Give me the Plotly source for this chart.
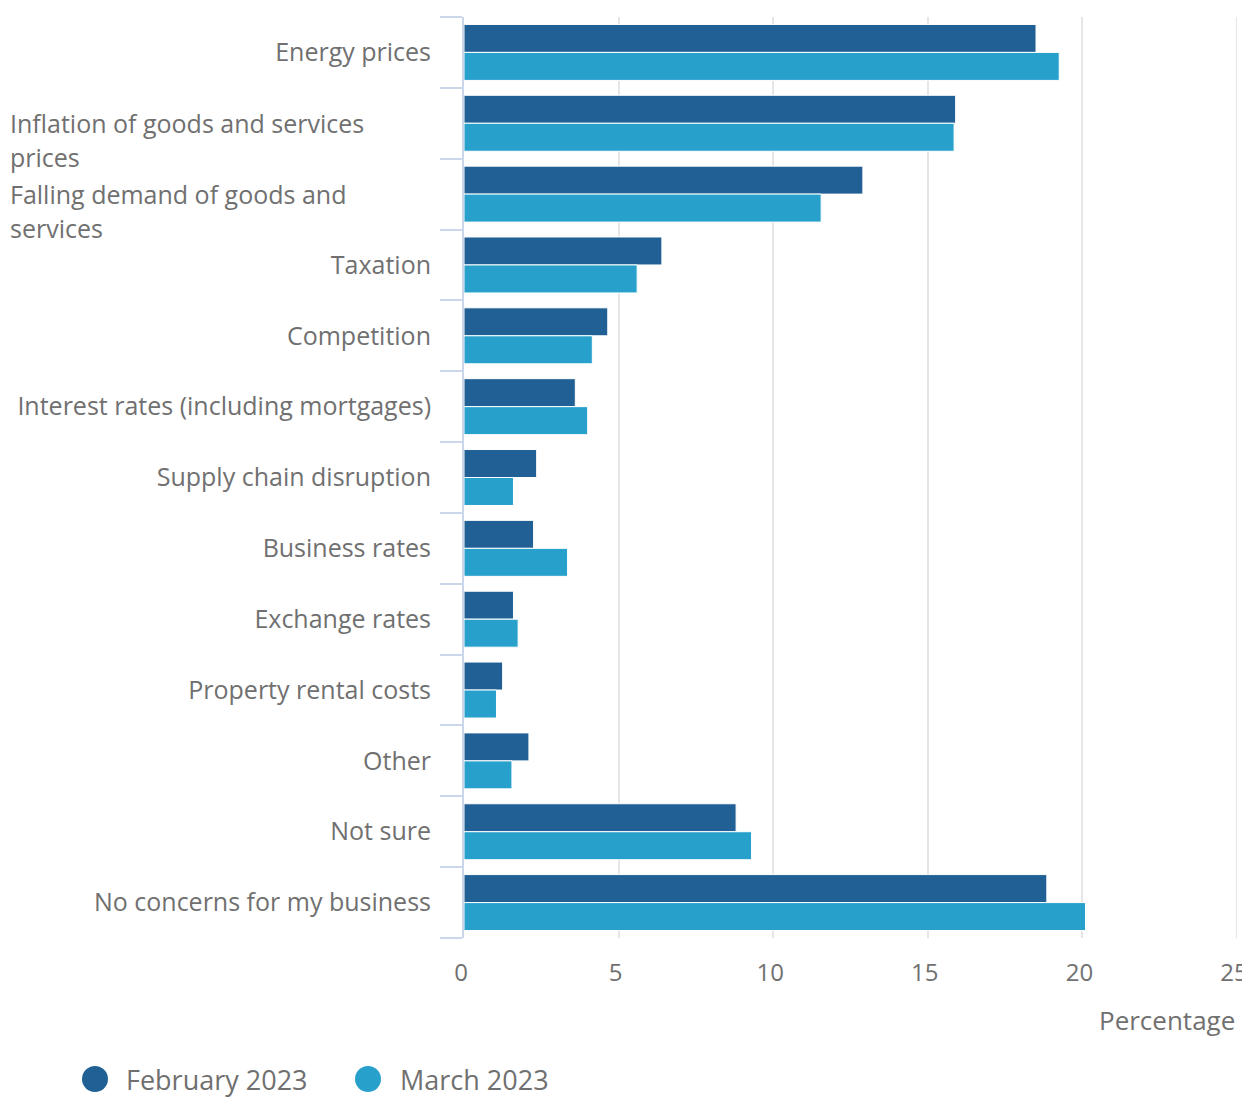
import plotly.graph_objects as go

categories = [
    "Energy prices",
    "Inflation of goods and services prices",
    "Falling demand of goods and services",
    "Taxation",
    "Competition",
    "Interest rates (including mortgages)",
    "Supply chain disruption",
    "Business rates",
    "Exchange rates",
    "Property rental costs",
    "Other",
    "Not sure",
    "No concerns for my business",
]
feb_2023 = [18.5, 15.9, 12.9, 6.4, 4.65, 3.6, 2.35, 2.25, 1.6, 1.25, 2.1, 8.8, 18.85]
mar_2023 = [19.25, 15.85, 11.55, 5.6, 4.15, 4.0, 1.6, 3.35, 1.75, 1.05, 1.55, 9.3, 20.1]
series_names = ["February 2023", "March 2023"]
tick_values = [0, 5, 10, 15, 20, 25]

# wrapped labels (drawn left-aligned like the original)
wrapped = {
    1: ["Inflation of goods and services", "prices"],
    2: ["Falling demand of goods and", "services"],
}

FEB_COLOR = "#206095"
MAR_COLOR = "#27a0cc"
TEXT = "#707070"
GRID = "#e6e6e6"
FONT = "Open Sans"
FS = 25

OFF = 8  # page body margin
W, H = 1250 - OFF, 1097 - OFF
# plot area in screen pixels: x 464..1237, y 17..938
L = 464 - OFF
T = 17 - OFF
R = W - (1237 - OFF)
B = H - (938 - OFF)
PW, PH = W - L - R, H - T - B


def px_x(px):
    return (px - OFF - L) / PW


def px_y(py):
    return (H - B - (py - OFF)) / PH


idx = list(range(len(categories)))

fig = go.Figure()
fig.add_trace(go.Bar(y=idx, x=feb_2023, orientation="h", name=series_names[0],
                     marker=dict(color=FEB_COLOR, line=dict(color="white", width=1)),
                     showlegend=False))
fig.add_trace(go.Bar(y=idx, x=mar_2023, orientation="h", name=series_names[1],
                     marker=dict(color=MAR_COLOR, line=dict(color="white", width=1)),
                     showlegend=False))

ticktext = [("" if i in wrapped else c) for i, c in enumerate(categories)]

fig.update_layout(
    width=W, height=H,
    margin=dict(l=L, r=R, t=T, b=B, pad=0, autoexpand=False),
    paper_bgcolor="white", plot_bgcolor="white",
    barmode="group", bargap=0.21, bargroupgap=0,
    font=dict(family=FONT, size=FS, color=TEXT),
    showlegend=False,
    xaxis=dict(
        range=[0, 25], tickvals=tick_values, showgrid=True,
        gridcolor=GRID, gridwidth=2, zeroline=False, showline=False,
        ticks="", tickfont=dict(size=24, color=TEXT), ticklabelstandoff=18,
        ticklabelshift=-3,
        ticklabeloverflow="allow", automargin=False,
        fixedrange=True,
    ),
    yaxis=dict(
        range=[len(categories) - 0.5, -0.5],
        tickmode="array", tickvals=idx, ticktext=ticktext,
        ticks="outside", ticklen=22, tickcolor="rgba(0,0,0,0)",
        ticklabelstandoff=4, automargin=False,
        tickfont=dict(size=FS, color=TEXT),
        showgrid=False, zeroline=False,
        showline=True, linecolor="#ccd6eb", linewidth=2,
        minor=dict(tickmode="array",
                   tickvals=[i - 0.5 for i in range(len(categories) + 1)],
                   ticks="outside", ticklen=22, tickcolor="#ccd6eb", tickwidth=2,
                   showgrid=False),
    ),
)

annotations = []
for i, lines in wrapped.items():
    for j, line in enumerate(lines):
        annotations.append(dict(
            x=px_x(8), xref="paper", y=i, yref="y", yshift=-34 * j,
            text=line, showarrow=False, xanchor="left", yanchor="middle",
            font=dict(size=FS, color=TEXT),
        ))

annotations.append(dict(
    x=1, xref="paper", y=px_y(1020), yref="paper", text="Percentage",
    showarrow=False, xanchor="right", yanchor="middle",
    font=dict(size=26, color=TEXT),
))

shapes = []
# gridline at the right end of the range (plotly skips grid lines at range edges)
shapes.append(dict(type="line", xref="x", yref="paper", x0=tick_values[-1], x1=tick_values[-1],
                   y0=0, y1=1, line=dict(color=GRID, width=2), layer="below"))

# legend drawn manually
legend_items = [(95, 124, FEB_COLOR, series_names[0]), (368, 398, MAR_COLOR, series_names[1])]
for cx, tx, col, name in legend_items:
    cy, r = 1079, 13
    shapes.append(dict(type="circle", xref="paper", yref="paper",
                       x0=px_x(cx - r), x1=px_x(cx + r), y0=px_y(cy + r), y1=px_y(cy - r),
                       fillcolor=col, line=dict(width=0)))
    annotations.append(dict(x=px_x(tx), xref="paper", y=px_y(1079), yref="paper",
                            text=name, showarrow=False, xanchor="left", yanchor="middle",
                            font=dict(size=27, color=TEXT)))

fig.update_layout(annotations=annotations, shapes=shapes)

fig.write_html("out.html")
